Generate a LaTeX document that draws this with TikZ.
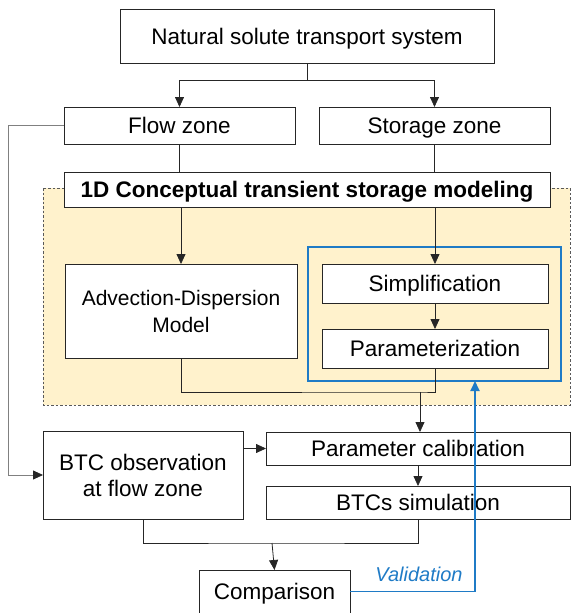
\documentclass[tikz,border=0pt]{standalone}
\usepackage{fontspec}
\setmainfont{Liberation Sans}
\usetikzlibrary{arrows.meta}
\definecolor{zoneyellow}{HTML}{FFF2CC}
\definecolor{valblue}{HTML}{1F7BC6}
\definecolor{edge}{HTML}{262626}
\tikzset{
  box/.style={draw=edge, fill=white, line width=0.9pt, inner sep=0pt, outer sep=0pt,
    align=center, font=\fontsize{22.5}{27}\selectfont},
  oneline/.style={text height=16pt, text depth=0pt},
  conn/.style={draw=edge, line width=0.8pt},
  arr/.style={conn, -{Triangle[length=10pt,width=9pt]}},
  blueline/.style={draw=valblue, line width=1.8pt},
}
\begin{document}
\begin{tikzpicture}[x=1pt, y=-1pt]
  \useasboundingbox (0,0) rectangle (571,613);

  % modelling zone background
  \fill[zoneyellow] (43,188) rectangle (570,405);
  \draw[gray!70!black, line width=0.7pt, dash pattern=on 2.5pt off 2pt] (43,188) rectangle (570,405);

  % blue frame around the storage-zone steps
  \draw[blueline] (308,247) rectangle (561,381);

  % boxes
  \node[box, oneline, minimum width=374pt, minimum height=54pt] (sys) at (307,36) {Natural solute transport system};
  \node[box, oneline, minimum width=231pt, minimum height=37pt] (flow) at (179.5,125.5) {Flow zone};
  \node[box, oneline, minimum width=231pt, minimum height=37pt] (stor) at (434.5,125.5) {Storage zone};
  \node[box, oneline, minimum width=486pt, minimum height=35pt, font=\fontsize{22.5}{27}\selectfont\bfseries] (tsm) at (307,189.5) {1D Conceptual transient storage modeling};
  \node[box, minimum width=232pt, minimum height=94pt, font=\fontsize{21}{27}\selectfont] (adm) at (181,311) {Advection-Dispersion\\Model};
  \node[box, oneline, minimum width=226pt, minimum height=39pt] (simp) at (435,283.5) {Simplification};
  \node[box, oneline, minimum width=226pt, minimum height=39pt] (para) at (435,348.5) {Parameterization};
  \node[box, oneline, minimum width=304pt, minimum height=33pt] (cal) at (418,448.5) {Parameter calibration};
  \node[box, oneline, minimum width=304pt, minimum height=33pt] (sim) at (418,502.5) {BTCs simulation};
  \node[box, minimum width=200pt, minimum height=88pt] (obs) at (143,475) {BTC observation\\[-1pt]at flow zone};
  \node[box, oneline, minimum width=151pt, minimum height=43pt] (cmp) at (274.5,591.5) {Comparison};

  % junction points
  \coordinate (split) at (307,80);
  \coordinate (join1) at (420,392);
  \coordinate (join2) at (272,543);
  \coordinate (valturn) at (475,0);

  % connectors
  \draw[conn] (sys.south) -- (split);
  \draw[arr] (split) -| (flow.north);
  \draw[arr] (split) -| (stor.north);
  \draw[conn] (flow.south) -- (flow.south |- tsm.north);
  \draw[conn] (stor.south) -- (stor.south |- tsm.north);
  \draw[arr] (adm.north |- tsm.south) -- (adm.north);
  \draw[arr] (simp.north |- tsm.south) -- (simp.north);
  \draw[arr] (simp.south) -- (para.north);
  \draw[conn] (adm.south) |- (join1) -| (para.south);
  \draw[arr] (join1) -- (join1 |- cal.north);
  \draw[arr] (cal.south) -- (sim.north);
  \draw[arr] (obs.east |- cal.west) -- (cal.west);
  \draw[conn, draw=gray, -{Triangle[length=10pt,width=9pt,color=edge]}] (flow.west) -- (8,125.5) |- (obs.west);
  \draw[conn] (obs.south) |- (join2) -| (sim.south);
  \draw[arr] (join2) -- (cmp.north);

  % validation feedback
  \draw[blueline, -{Triangle[length=10pt,width=9pt]}] (cmp.east) -| (valturn |- 0,381);
  \node[text=valblue, font=\fontsize{20}{24}\selectfont\itshape] (val) at (419,574) {Validation};
\end{tikzpicture}
\end{document}
